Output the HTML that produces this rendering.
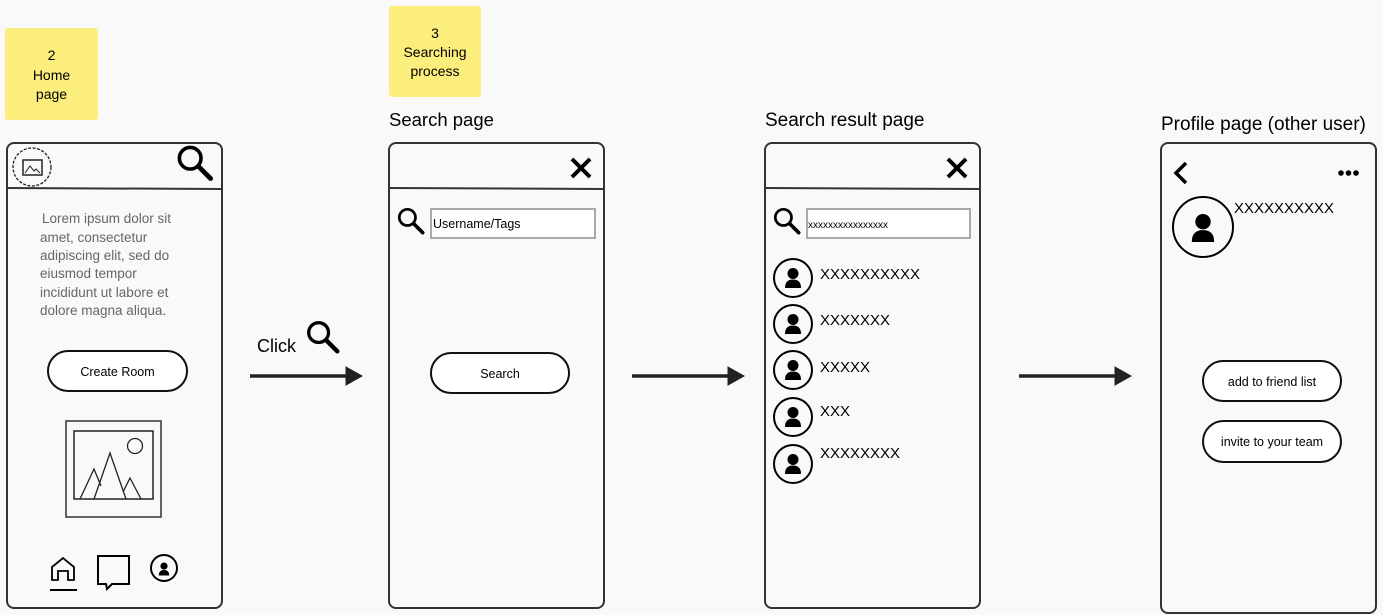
<!DOCTYPE html>
<html><head><meta charset="utf-8"><style>
html,body{margin:0;padding:0;background:#f9f9f9;}
svg{display:block;font-family:"Liberation Sans",sans-serif;}
</style></head><body>
<svg width="1383" height="615" viewBox="0 0 1383 615" xmlns="http://www.w3.org/2000/svg">
<defs>
<g id="mag"><circle cx="-4" cy="-4" r="9" fill="none" stroke="#000" stroke-width="3"/><line x1="3" y1="3" x2="13" y2="13" stroke="#000" stroke-width="4" stroke-linecap="round"/></g>
<g id="person"><circle cx="0" cy="-4.5" r="5.5" fill="#000"/><path d="M-8,10 Q-8,1.5 0,1.5 Q8,1.5 8,10 Z" fill="#000"/></g>
<g id="av"><circle r="19" fill="none" stroke="#000" stroke-width="2"/><use href="#person"/></g>
<g id="xx"><line x1="-9" y1="-9" x2="9" y2="9" stroke="#000" stroke-width="4"/><line x1="9" y1="-9" x2="-9" y2="9" stroke="#000" stroke-width="4"/></g>
</defs>
<rect width="1383" height="615" fill="#f9f9f9"/>
<!-- sticky notes -->
<rect x="5" y="28" width="93" height="92" rx="3" fill="#fbee7c"/>
<text x="51.5" y="60" font-size="14" text-anchor="middle">2</text>
<text x="51.5" y="80" font-size="14" text-anchor="middle">Home</text>
<text x="51.5" y="99" font-size="14" text-anchor="middle">page</text>
<rect x="389" y="6" width="92" height="91" rx="3" fill="#fbee7c"/>
<text x="435" y="38" font-size="14" text-anchor="middle">3</text>
<text x="435" y="57" font-size="14" text-anchor="middle">Searching</text>
<text x="435" y="76" font-size="14" text-anchor="middle">process</text>
<!-- titles -->
<text x="389" y="126" font-size="18.5">Search page</text>
<text x="765" y="126" font-size="19">Search result page</text>
<text x="1161" y="130" font-size="19">Profile page (other user)</text>
<!-- frames -->
<g fill="none" stroke="#333" stroke-width="2">
<rect x="7" y="143" width="215" height="465" rx="7"/>
<rect x="389" y="143" width="215" height="465" rx="7"/>
<rect x="765" y="143" width="215" height="465" rx="7"/>
<rect x="1161" y="143" width="215" height="470" rx="7"/>
<line x1="6" y1="188" x2="222" y2="189"/>
<line x1="389" y1="188" x2="604" y2="189"/>
<line x1="765" y1="188" x2="980" y2="189"/>
</g>
<!-- Home page -->
<circle cx="32" cy="167" r="19" fill="none" stroke="#222" stroke-width="1.3" stroke-dasharray="3 1.5"/>
<rect x="23" y="160" width="19" height="15" fill="none" stroke="#222" stroke-width="1.5"/>
<path d="M25,173 L30,166 L34,171 L36,169 L40,173" fill="none" stroke="#222" stroke-width="1"/>
<g transform="translate(195,163) scale(1.2)"><use href="#mag"/></g>
<g font-size="13.5" fill="#666">
<text x="42" y="223"> Lorem ipsum dolor sit</text>
<text x="40" y="242">amet, consectetur</text>
<text x="40" y="260">adipiscing elit, sed do</text>
<text x="40" y="278">eiusmod tempor</text>
<text x="40" y="297">incididunt ut labore et</text>
<text x="40" y="315">dolore magna aliqua.</text>
</g>
<rect x="48" y="351" width="139" height="40" rx="20" fill="#fff" stroke="#111" stroke-width="2"/>
<text x="117.5" y="376" font-size="12.5" text-anchor="middle">Create Room</text>
<rect x="66" y="421" width="95" height="96" fill="none" stroke="#333" stroke-width="1.5"/>
<rect x="74" y="431" width="79" height="68" fill="none" stroke="#222" stroke-width="1.5"/>
<circle cx="135" cy="446" r="7.5" fill="none" stroke="#222" stroke-width="1.3"/>
<path d="M80,499 L94,469 L101,486 M94,499 L110,453 L126,499 M123,492 L130,478 L141,499" fill="none" stroke="#222" stroke-width="1.3"/>
<path d="M52,580 L52,567 L63,558 L74,567 L74,580 L68,580 L68,571 L58,571 L58,580 Z" fill="none" stroke="#000" stroke-width="1.8"/>
<line x1="50" y1="590" x2="77" y2="590" stroke="#000" stroke-width="2"/>
<path d="M98,556 L129,556 L129,584 L112,584 L107,589 L106,584 L98,584 Z" fill="none" stroke="#000" stroke-width="2"/>
<circle cx="164" cy="568" r="13" fill="none" stroke="#000" stroke-width="2"/>
<g transform="translate(164,569) scale(0.65)"><use href="#person"/></g>
<!-- arrows + click -->
<text x="257" y="352" font-size="18">Click</text>
<g transform="translate(323,337) scale(1.1)"><use href="#mag"/></g>
<g stroke="#222" stroke-width="3.5" fill="#222">
<line x1="250" y1="376" x2="350" y2="376"/><path d="M346,367 L362,376 L346,385 Z" stroke-width="1"/>
<line x1="632" y1="376" x2="732" y2="376"/><path d="M728,367 L744,376 L728,385 Z" stroke-width="1"/>
<line x1="1019" y1="376" x2="1119" y2="376"/><path d="M1115,367 L1131,376 L1115,385 Z" stroke-width="1"/>
</g>
<!-- Search page -->
<use href="#xx" x="581" y="168"/>
<g transform="translate(411,221) scale(0.9)"><use href="#mag"/></g>
<rect x="431" y="209" width="164" height="29" fill="#fff" stroke="#aaa" stroke-width="2"/>
<text x="433" y="228" font-size="12.5">Username/Tags</text>
<rect x="431" y="353" width="138" height="40" rx="20" fill="#fff" stroke="#111" stroke-width="2"/>
<text x="500" y="378" font-size="12.5" text-anchor="middle">Search</text>
<!-- Search result -->
<use href="#xx" x="957" y="168"/>
<g transform="translate(787,221) scale(0.9)"><use href="#mag"/></g>
<rect x="807" y="209" width="163" height="29" fill="#fff" stroke="#aaa" stroke-width="2"/>
<text x="808" y="228" font-size="10">xxxxxxxxxxxxxxxx</text>
<use href="#av" x="793" y="278"/><use href="#av" x="793" y="324"/><use href="#av" x="793" y="370"/><use href="#av" x="793" y="417"/><use href="#av" x="793" y="464"/>
<g font-size="15">
<text x="820" y="279">XXXXXXXXXX</text>
<text x="820" y="325">XXXXXXX</text>
<text x="820" y="372">XXXXX</text>
<text x="820" y="416">XXX</text>
<text x="820" y="458">XXXXXXXX</text>
</g>
<!-- Profile -->
<path d="M1186,163 L1176,173 L1186,183" fill="none" stroke="#000" stroke-width="3.5"/>
<circle cx="1341" cy="173" r="2.8"/><circle cx="1348.5" cy="173" r="2.8"/><circle cx="1356" cy="173" r="2.8"/>
<circle cx="1203" cy="227" r="30" fill="none" stroke="#000" stroke-width="2"/>
<g transform="translate(1203,228) scale(1.4)"><use href="#person"/></g>
<text x="1234" y="213" font-size="15">XXXXXXXXXX</text>
<rect x="1203" y="361" width="138" height="40" rx="20" fill="#fff" stroke="#111" stroke-width="2"/>
<text x="1272" y="386" font-size="12.5" text-anchor="middle">add to friend list</text>
<rect x="1203" y="421" width="138" height="41" rx="20.5" fill="#fff" stroke="#111" stroke-width="2"/>
<text x="1272" y="446" font-size="12.5" text-anchor="middle">invite to your team</text>
</svg>
</body></html>
